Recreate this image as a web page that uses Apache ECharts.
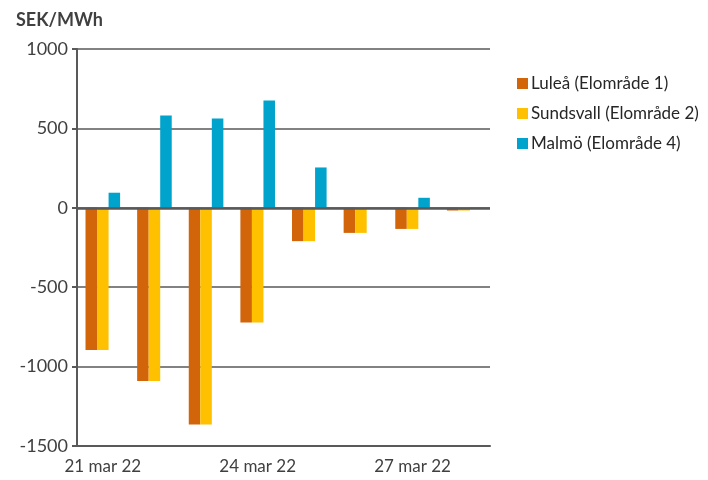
<!DOCTYPE html>
<html>
<head>
<meta charset="utf-8">
<script src="https://cdn.jsdelivr.net/npm/echarts@6/dist/echarts.min.js"></script>
<style>
  html, body { margin: 0; padding: 0; background: #fff; }
  #chart { width: 708px; height: 480px; }
</style>
</head>
<body>
<div id="chart"></div>
<script>
// Daily price difference per bidding area, SEK/MWh
const days = ['21 mar 22', '22 mar 22', '23 mar 22', '24 mar 22', '25 mar 22', '26 mar 22', '27 mar 22', '28 mar 22'];
const lulea = [-896, -1090, -1364, -722, -210, -158, -133, -17];
const sundsvall = [-896, -1090, -1364, -722, -210, -158, -133, -17];
const malmo = [95, 581, 562, 675, 254, 0, 63, 0];
const seriesNames = ['Luleå (Elområde 1)', 'Sundsvall (Elområde 2)', 'Malmö (Elområde 4)'];
const colors = ['#D2640A', '#FFC000', '#00A3CC'];

const FONT = 'Lato, "Open Sans", sans-serif';
const chart = echarts.init(document.getElementById('chart'), null, { renderer: 'canvas' });

chart.setOption({
  animation: false,
  color: colors,
  textStyle: { fontFamily: FONT },
  title: {
    text: 'SEK/MWh',
    left: 11,
    top: 6,
    textStyle: { fontFamily: FONT, fontSize: 18, fontWeight: 'bold', color: '#404040' }
  },
  legend: {
    orient: 'vertical',
    left: 512,
    top: 70,
    itemWidth: 11,
    itemHeight: 11,
    itemGap: 13,
    icon: 'rect',
    textStyle: { fontFamily: FONT, fontSize: 17, color: '#262626', padding: [0, 0, 0, -2] },
    data: seriesNames
  },
  grid: { left: 77, right: 218, top: 49, bottom: 34, containLabel: false },
  xAxis: {
    type: 'category',
    data: days,
    boundaryGap: true,
    axisLine: { show: true, onZero: false, lineStyle: { color: '#595959', width: 2 } },
    axisTick: { show: false },
    axisLabel: { interval: 2, fontSize: 17, color: '#404040', margin: 12, fontFamily: FONT },
    splitLine: { show: false }
  },
  yAxis: {
    type: 'value',
    min: -1500,
    max: 1000,
    interval: 500,
    axisLine: { show: true, lineStyle: { color: '#595959', width: 2 } },
    axisTick: { show: true, length: 5, lineStyle: { color: '#595959', width: 2 } },
    axisLabel: { fontSize: 18, color: '#404040', margin: 9, fontFamily: FONT, formatter: v => String(v) },
    splitLine: { show: true, lineStyle: { color: '#595959', width: 1.5 } }
  },
  series: [
    {
      name: seriesNames[0], type: 'bar', data: lulea,
      barGap: '0%', barCategoryGap: '33%',
      markLine: {
        silent: true, symbol: 'none', label: { show: false },
        lineStyle: { color: '#595959', width: 2.5, type: 'solid' },
        data: [{ yAxis: 0 }]
      }
    },
    { name: seriesNames[1], type: 'bar', data: sundsvall, barGap: '0%', barCategoryGap: '33%' },
    { name: seriesNames[2], type: 'bar', data: malmo, barGap: '0%', barCategoryGap: '33%' }
  ]
});
</script>
</body>
</html>
